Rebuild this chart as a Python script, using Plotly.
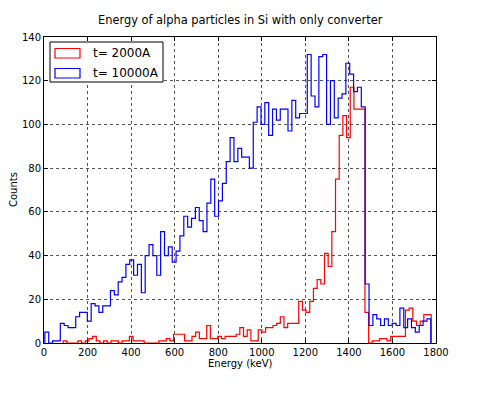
import numpy as np
import plotly.graph_objects as go

# ---- data ----
energy_min_thin, energy_max_thin = 88.0, 1778.0     # t= 2000A histogram range (keV)
energy_min_thick, energy_max_thick = 4.0, 1776.0    # t= 10000A histogram range (keV)

counts_2000A = [
    1, 0, 0, 0, 1, 0, 1, 2, 3, 1,
    0, 1, 0, 1, 1, 0, 1, 1, 3, 1,
    1, 1, 0, 0, 0, 0, 1, 1, 2, 1,
    4, 4, 4, 1, 1, 3, 5, 2, 2, 8,
    2, 2, 3, 2, 3, 3, 3, 4, 7, 3,
    6, 1, 1, 6, 5, 7, 7, 8, 9, 12,
    7, 9, 9, 9, 19, 15, 14, 19, 25, 29,
    27, 41, 35, 51, 75, 95, 104, 94, 117, 107,
    107, 107, 14, 0, 1, 1, 2, 2, 1, 3,
    3, 3, 3, 15, 16, 10, 8, 10, 13, 13,
]

counts_10000A = [
    5, 0, 1, 1, 9, 8, 7, 7, 12, 14,
    14, 10, 18, 17, 14, 17, 17, 24, 22, 28,
    30, 36, 38, 31, 36, 23, 40, 45, 40, 31,
    51, 40, 44, 37, 42, 49, 58, 53, 57, 62,
    56, 51, 64, 75, 58, 65, 73, 83, 94, 83,
    89, 85, 85, 80, 101, 108, 100, 110, 95, 107,
    102, 107, 107, 97, 111, 103, 105, 105, 132, 113,
    108, 131, 132, 100, 120, 103, 112, 114, 128, 123,
    115, 117, 108, 27, 8, 13, 11, 8, 11, 8,
    9, 8, 16, 7, 11, 7, 5, 8, 10, 11,
]

series_labels = ["t= 2000A", "t= 10000A"]
x_ticks = [0, 200, 400, 600, 800, 1000, 1200, 1400, 1600, 1800]
y_ticks = [0, 20, 40, 60, 80, 100, 120, 140]


def step_outline(lo, hi, counts):
    edges = np.linspace(lo, hi, len(counts) + 1)
    xs = [edges[0]] + list(edges[:-1]) + [edges[-1]]
    ys = [0] + list(counts) + [0]
    return xs, ys


fig = go.Figure()
for (lo, hi, cnt, col, name) in [
    (energy_min_thin, energy_max_thin, counts_2000A, "#ff0000", series_labels[0]),
    (energy_min_thick, energy_max_thick, counts_10000A, "#0000ff", series_labels[1]),
]:
    xs, ys = step_outline(lo, hi, cnt)
    fig.add_trace(go.Scatter(x=xs, y=ys, mode="lines", line=dict(color=col, width=1.2, shape="hv"),
                             name=name, showlegend=False, hoverinfo="skip"))

font_family = "DejaVu Sans, Verdana, sans-serif"

axis_common = dict(
    showline=True, linecolor="black", linewidth=1, mirror="allticks",
    ticks="inside", ticklen=4, tickcolor="black", tickwidth=1,
    showgrid=True, gridcolor="#555555", gridwidth=0.6, griddash="dot",
    zeroline=False, automargin=False,
    tickfont=dict(family=font_family, size=10, color="black"),
)

fig.update_xaxes(range=[0, 1800], tickvals=x_ticks, ticktext=[str(v) for v in x_ticks], **axis_common)
fig.update_yaxes(range=[0, 140], tickvals=y_ticks, ticktext=[str(v) for v in y_ticks], **axis_common)

# page body has an 8px margin; plot area in page pixels: x 44..436, y 37..343
OFF = 8
W, H = 496 - OFF, 393 - OFF
L, R, T, B = 44, 436, 37, 343
PW, PH = R - L, B - T


def px(xp):
    return (xp - L) / PW


def py(yp):
    return (B - yp) / PH


shapes = [
    dict(type="rect", xref="paper", yref="paper", x0=px(50), x1=px(163), y0=py(82), y1=py(42),
         line=dict(color="black", width=1), fillcolor="white", layer="above"),
    dict(type="rect", xref="paper", yref="paper", x0=px(55), x1=px(80), y0=py(58), y1=py(48.5),
         line=dict(color="#ff0000", width=1.2), layer="above"),
    dict(type="rect", xref="paper", yref="paper", x0=px(55), x1=px(80), y0=py(78), y1=py(68.5),
         line=dict(color="#0000ff", width=1.2), layer="above"),
]
annotations = [
    dict(xref="paper", yref="paper", x=px(91), y=py(53), text=series_labels[0],
         showarrow=False, xanchor="left", yanchor="middle", font=dict(family=font_family, size=12, color="black")),
    dict(xref="paper", yref="paper", x=px(91), y=py(73), text=series_labels[1],
         showarrow=False, xanchor="left", yanchor="middle", font=dict(family=font_family, size=12, color="black")),
    dict(xref="paper", yref="paper", x=0.5, y=py(363), text="Energy (keV)",
         showarrow=False, xanchor="center", yanchor="middle", font=dict(family=font_family, size=10, color="black")),
    dict(xref="paper", yref="paper", x=px(13), y=0.5, text="Counts", textangle=-90,
         showarrow=False, xanchor="center", yanchor="middle", font=dict(family=font_family, size=10, color="black")),
    dict(xref="paper", yref="paper", x=0.5, y=py(20), text="Energy of alpha particles in Si with only converter",
         showarrow=False, xanchor="center", yanchor="middle", font=dict(family=font_family, size=11.4, color="black")),
]

fig.update_layout(
    width=W, height=H,
    margin=dict(l=L - OFF, r=W - (R - OFF), t=T - OFF, b=H - (B - OFF), autoexpand=False),
    paper_bgcolor="white", plot_bgcolor="white",
    shapes=shapes, annotations=annotations, showlegend=False,
)

fig.write_html("out.html")
